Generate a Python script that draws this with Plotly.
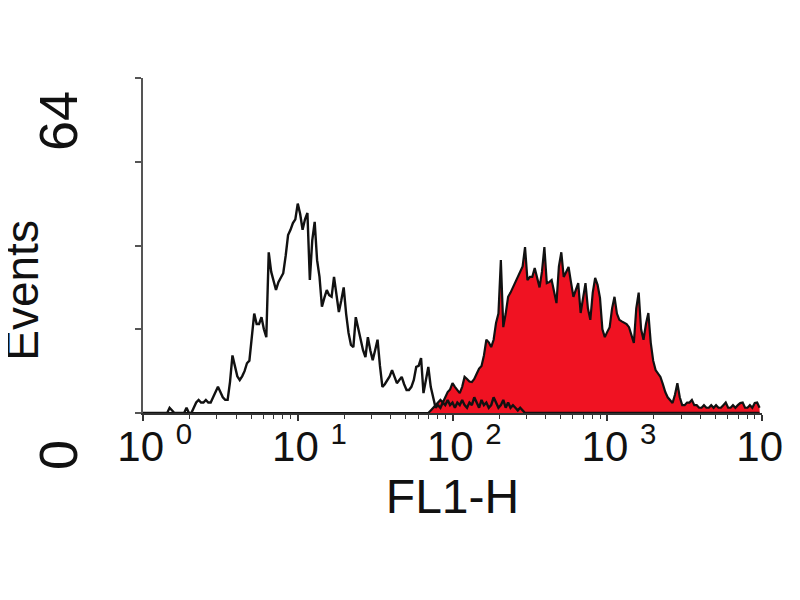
import numpy as np
import plotly.graph_objects as go

# FL1-H histogram channels: 256 log-spaced channels over 4 decades
n_channels = 256
channel_values = 10 ** (np.arange(n_channels) / 64.0)

# Control (unfilled, black outline) counts per channel
control_counts = [
    0, 0, 0, 0, 0, 0, 0, 0, 0, 0,
    0, 1, 0.5, 0, 0, 0, 0, 0, 1, 0,
    0, 1, 2, 2.5, 2, 2, 2.5, 2, 2, 3,
    4, 5, 4, 3, 2.5, 2.5, 6, 11, 9, 7,
    6.3, 7, 8, 9.5, 10, 14, 19, 17, 17, 18.3,
    16, 14.5, 30.7, 27, 25, 23.5, 25, 26, 26.7, 30,
    34, 35, 36.3, 37, 40, 38, 35, 37, 38.2, 25.4,
    33, 36.5, 29.2, 26, 20.3, 22, 23.5, 22.5, 22.2, 26,
    23, 19.3, 21.5, 24, 19, 15.3, 13, 12.6, 18.3, 16,
    14, 12, 10.7, 14.5, 12, 10.1, 12, 14, 9, 5,
    5.5, 6.3, 7, 8.2, 7, 5.7, 6.3, 6.9, 5.5, 4.4,
    4.4, 5, 6.3, 8.8, 9, 10.5, 3.8, 6, 8.8, 5,
    3, 1, 1.5, 1, 2, 1.5, 2.5, 1.5, 2, 1,
    2, 1.5, 2.5, 1.5, 1, 2, 1.5, 3, 2, 1,
    2.5, 1.5, 2, 1, 1.5, 3, 2, 1, 1.5, 2.5,
    1, 2, 1, 1.5, 1, 0.5, 1, 0.5, 0, 0,
] + [0] * 96

# Stained sample (red filled) counts per channel
stained_counts = [0] * 118 + [
    0, 0.5,
    1, 1.5, 2, 2.5, 2, 3, 4, 4.5, 5.7, 5,
    4.5, 3.8, 5, 6.9, 6.5, 6, 5.9, 6.5, 7.5, 8.5,
    9, 11, 14, 13.5, 12.6, 14, 17.2, 19, 29.2, 16.4,
    19, 22.2, 23, 24, 25, 26, 27, 28, 31.7, 25.4,
    26, 26, 27.7, 26, 24, 27, 31.7, 24.8, 25, 25.4,
    23, 21, 28, 30.7, 26, 27, 27.9, 25, 22.2, 23.5,
    24.8, 19.1, 22, 24.8, 20, 17.8, 23, 25.8, 24.5, 22,
    16, 14.5, 15.5, 16.4, 20, 22.2, 19, 17.8, 17.5, 17.2,
    17, 16.4, 15, 13.4, 20, 23, 16, 14, 17, 19.1,
    13.4, 10, 8.2, 7.5, 6.9, 5.5, 4, 3, 2.5, 1.9,
    3.5, 5.7, 3, 1.5, 1.5, 2, 2, 2.5, 1.5, 1.5,
    1, 1, 1.5, 1, 1, 1.5, 1, 1.5, 1, 1,
    1.5, 2, 1, 1, 1.5, 1, 1.5, 1.9, 2, 1,
    1, 1.5, 1, 1.9, 2, 1,
]

x_tickvals = [1, 10, 100, 1000, 10000]
x_ticktext = ["&nbsp;&nbsp;10 <sup>0</sup>", "&nbsp;&nbsp;10 <sup>1</sup>",
              "&nbsp;&nbsp;10 <sup>2</sup>", "&nbsp;&nbsp;10 <sup>3</sup>",
              "&nbsp;&nbsp;10 <sup>4</sup>"]
x_minor = [m * 10 ** k for k in range(4) for m in range(2, 10)]
y_tickvals = [0, 16, 32, 48, 64]
y_labels = ["64", "0"]

FONT = "Liberation Sans, Arial, Helvetica, sans-serif"

fig = go.Figure()
fig.add_trace(go.Scatter(
    x=channel_values, y=stained_counts, mode="lines",
    line=dict(color="#111111", width=2.2),
    fill="tozeroy", fillcolor="rgb(240,18,34)",
    hoverinfo="skip", showlegend=False,
))
fig.add_trace(go.Scatter(
    x=channel_values, y=control_counts, mode="lines",
    line=dict(color="#111111", width=2.4),
    hoverinfo="skip", showlegend=False,
))

# page body adds ~8px offset; margins compensate so plot area sits at 143..762 x 78..413
fig.update_layout(
    width=800, height=600,
    margin=dict(l=135, r=46, t=70, b=195),
    paper_bgcolor="white", plot_bgcolor="white",
    font=dict(family=FONT, color="black"),
    xaxis=dict(
        type="log", range=[0, 4], automargin=False,
        tickvals=x_tickvals, ticktext=x_ticktext,
        tickfont=dict(size=42, family=FONT, color="#111111"),
        ticks="outside", ticklen=6, tickwidth=1.5, tickcolor="#333333",
        ticklabelstandoff=-10, ticklabeloverflow="allow",
        minor=dict(tickvals=x_minor, ticks="outside", ticklen=4,
                   tickwidth=1.2, tickcolor="#333333"),
        showline=True, linecolor="#333333", linewidth=2,
        showgrid=False, zeroline=False,
        title=dict(text="FL1-H", font=dict(size=48, family=FONT, color="#111111"),
                   standoff=6),
    ),
    yaxis=dict(
        range=[0, 64], tickvals=y_tickvals, showticklabels=False,
        automargin=False,
        ticks="outside", ticklen=6, tickwidth=1.5, tickcolor="#555555",
        showline=True, linecolor="#555555", linewidth=2,
        showgrid=False, zeroline=False,
    ),
    annotations=[
        dict(text="Events", xref="paper", yref="paper", x=-0.196, y=0.367,
             xanchor="center", yanchor="middle",
             textangle=-90, showarrow=False,
             font=dict(size=46, family=FONT, color="#111111")),
        dict(text=y_labels[0], xref="paper", yref="paper", x=-0.137, y=0.872,
             xanchor="center", yanchor="middle",
             textangle=-90, showarrow=False,
             font=dict(size=54, family=FONT, color="#111111")),
        dict(text=y_labels[1], xref="paper", yref="paper", x=-0.137, y=-0.125,
             xanchor="center", yanchor="middle",
             textangle=-90, showarrow=False,
             font=dict(size=54, family=FONT, color="#111111")),
    ],
)

fig.write_html("out.html")
